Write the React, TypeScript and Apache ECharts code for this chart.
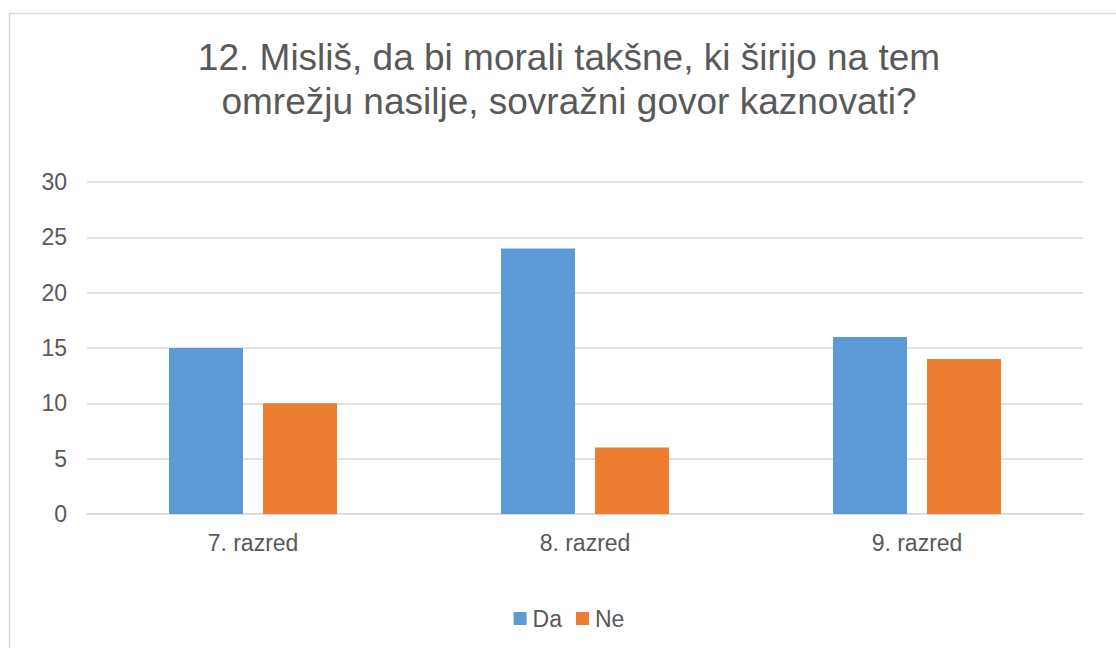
import React, { useEffect, useRef } from "react";
import * as echarts from "echarts";

const titleLines = [
  "12. Misliš, da bi morali takšne, ki širijo na tem",
  "omrežju nasilje, sovražni govor kaznovati?",
];
const categories = ["7. razred", "8. razred", "9. razred"];
const seriesNames = ["Da", "Ne"];
const daValues = [15, 24, 16];
const neValues = [10, 6, 14];
const yTicks = { min: 0, max: 30, interval: 5 };

const FONT = "'Liberation Sans', Arial, sans-serif";
const TEXT = "#595959";
const GRID = "#d9d9d9";

export default function App() {
  const ref = useRef<HTMLDivElement>(null);
  useEffect(() => {
    if (!ref.current) return;
    const chart = echarts.init(ref.current, null, { renderer: "svg" });
    chart.setOption({
      animation: false,
      backgroundColor: "#ffffff",
      textStyle: { fontFamily: FONT },
      title: {
        text: titleLines.join("\n"),
        left: "center",
        top: 35,
        padding: 0,
        textStyle: {
          fontFamily: FONT,
          fontSize: 37,
          lineHeight: 44,
          fontWeight: "normal",
          color: TEXT,
        },
      },
      graphic: [
        {
          type: "rect",
          shape: { x: 9.5, y: 13.5, width: 1300, height: 800 },
          style: { fill: "none", stroke: GRID, lineWidth: 1.5 },
          silent: true,
          z: -10,
        },
      ],
      legend: {
        data: seriesNames,
        left: "center",
        top: 602,
        itemWidth: 13,
        itemHeight: 13,
        itemGap: 14,
        icon: "rect",
        textStyle: { fontFamily: FONT, fontSize: 23, color: TEXT, padding: [0, 0, 0, 1] },
      },
      grid: { left: 87, right: 55, top: 182, bottom: 134, containLabel: false },
      xAxis: {
        type: "category",
        data: categories,
        axisLine: { show: true, lineStyle: { color: GRID, width: 1.5 } },
        axisTick: { show: false },
        axisLabel: { fontFamily: FONT, fontSize: 23, color: TEXT, margin: 17 },
      },
      yAxis: {
        type: "value",
        min: yTicks.min,
        max: yTicks.max,
        interval: yTicks.interval,
        axisLine: { show: false },
        axisTick: { show: false },
        axisLabel: { fontFamily: FONT, fontSize: 23, color: TEXT, margin: 20 },
        splitLine: { lineStyle: { color: GRID, width: 1.5 } },
      },
      series: [
        {
          name: seriesNames[0],
          type: "bar",
          data: daValues,
          barWidth: 74,
          barGap: "27%",
          itemStyle: { color: "#5B9BD5" },
        },
        {
          name: seriesNames[1],
          type: "bar",
          data: neValues,
          barWidth: 74,
          barGap: "27%",
          itemStyle: { color: "#ED7D31" },
        },
      ],
    });
    return () => chart.dispose();
  }, []);
  return (
    <div
      style={{
        position: "absolute",
        left: 0,
        top: 0,
        width: 1116,
        height: 648,
        overflow: "hidden",
        background: "#fff",
      }}
    >
      <div ref={ref} style={{ width: 1138, height: 648 }} />
    </div>
  );
}
